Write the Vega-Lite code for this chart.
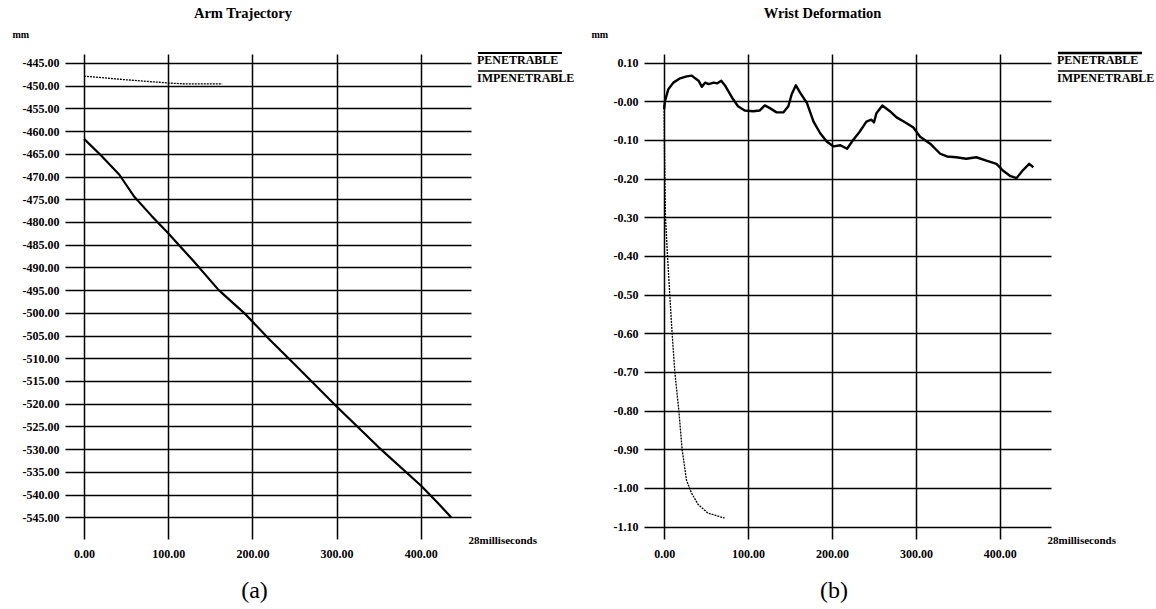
{
  "$schema": "https://vega.github.io/schema/vega-lite/v6.json",
  "background": "white",
  "padding": {"left": 12, "top": 5, "right": 2, "bottom": 5},
  "datasets": {
    "arm": [
      {"t": 0, "v": -461.7, "series": "PENETRABLE"},
      {"t": 20, "v": -465.3, "series": "PENETRABLE"},
      {"t": 42, "v": -469.6, "series": "PENETRABLE"},
      {"t": 50, "v": -471.8, "series": "PENETRABLE"},
      {"t": 60, "v": -474.5, "series": "PENETRABLE"},
      {"t": 80, "v": -478.6, "series": "PENETRABLE"},
      {"t": 100, "v": -482.5, "series": "PENETRABLE"},
      {"t": 130, "v": -488.6, "series": "PENETRABLE"},
      {"t": 160, "v": -495.0, "series": "PENETRABLE"},
      {"t": 190, "v": -500.0, "series": "PENETRABLE"},
      {"t": 220, "v": -505.8, "series": "PENETRABLE"},
      {"t": 250, "v": -511.3, "series": "PENETRABLE"},
      {"t": 300, "v": -520.6, "series": "PENETRABLE"},
      {"t": 350, "v": -529.6, "series": "PENETRABLE"},
      {"t": 400, "v": -538.0, "series": "PENETRABLE"},
      {"t": 420, "v": -541.8, "series": "PENETRABLE"},
      {"t": 436, "v": -545.0, "series": "PENETRABLE"},
      {"t": 0, "v": -447.9, "series": "IMPENETRABLE"},
      {"t": 50, "v": -448.7, "series": "IMPENETRABLE"},
      {"t": 100, "v": -449.4, "series": "IMPENETRABLE"},
      {"t": 120, "v": -449.6, "series": "IMPENETRABLE"},
      {"t": 164, "v": -449.6, "series": "IMPENETRABLE"}
    ],
    "wrist": [
      {"t": 0, "v": -0.02, "series": "PENETRABLE"},
      {"t": 1, "v": 0.0, "series": "PENETRABLE"},
      {"t": 5, "v": 0.031, "series": "PENETRABLE"},
      {"t": 11, "v": 0.048, "series": "PENETRABLE"},
      {"t": 19, "v": 0.059, "series": "PENETRABLE"},
      {"t": 27, "v": 0.064, "series": "PENETRABLE"},
      {"t": 33, "v": 0.066, "series": "PENETRABLE"},
      {"t": 37, "v": 0.059, "series": "PENETRABLE"},
      {"t": 41, "v": 0.053, "series": "PENETRABLE"},
      {"t": 45, "v": 0.037, "series": "PENETRABLE"},
      {"t": 49, "v": 0.048, "series": "PENETRABLE"},
      {"t": 53, "v": 0.044, "series": "PENETRABLE"},
      {"t": 59, "v": 0.048, "series": "PENETRABLE"},
      {"t": 63, "v": 0.046, "series": "PENETRABLE"},
      {"t": 68, "v": 0.053, "series": "PENETRABLE"},
      {"t": 73, "v": 0.039, "series": "PENETRABLE"},
      {"t": 81, "v": 0.009, "series": "PENETRABLE"},
      {"t": 88, "v": -0.013, "series": "PENETRABLE"},
      {"t": 96, "v": -0.024, "series": "PENETRABLE"},
      {"t": 106, "v": -0.026, "series": "PENETRABLE"},
      {"t": 114, "v": -0.024, "series": "PENETRABLE"},
      {"t": 120, "v": -0.011, "series": "PENETRABLE"},
      {"t": 126, "v": -0.018, "series": "PENETRABLE"},
      {"t": 134, "v": -0.029, "series": "PENETRABLE"},
      {"t": 142, "v": -0.029, "series": "PENETRABLE"},
      {"t": 148, "v": -0.013, "series": "PENETRABLE"},
      {"t": 152, "v": 0.018, "series": "PENETRABLE"},
      {"t": 157, "v": 0.041, "series": "PENETRABLE"},
      {"t": 162, "v": 0.022, "series": "PENETRABLE"},
      {"t": 170, "v": -0.004, "series": "PENETRABLE"},
      {"t": 178, "v": -0.053, "series": "PENETRABLE"},
      {"t": 186, "v": -0.083, "series": "PENETRABLE"},
      {"t": 194, "v": -0.105, "series": "PENETRABLE"},
      {"t": 202, "v": -0.117, "series": "PENETRABLE"},
      {"t": 210, "v": -0.114, "series": "PENETRABLE"},
      {"t": 218, "v": -0.123, "series": "PENETRABLE"},
      {"t": 225, "v": -0.101, "series": "PENETRABLE"},
      {"t": 233, "v": -0.079, "series": "PENETRABLE"},
      {"t": 241, "v": -0.053, "series": "PENETRABLE"},
      {"t": 247, "v": -0.048, "series": "PENETRABLE"},
      {"t": 250, "v": -0.055, "series": "PENETRABLE"},
      {"t": 253, "v": -0.031, "series": "PENETRABLE"},
      {"t": 260, "v": -0.011, "series": "PENETRABLE"},
      {"t": 269, "v": -0.026, "series": "PENETRABLE"},
      {"t": 277, "v": -0.042, "series": "PENETRABLE"},
      {"t": 289, "v": -0.057, "series": "PENETRABLE"},
      {"t": 297, "v": -0.068, "series": "PENETRABLE"},
      {"t": 305, "v": -0.092, "series": "PENETRABLE"},
      {"t": 317, "v": -0.110, "series": "PENETRABLE"},
      {"t": 329, "v": -0.136, "series": "PENETRABLE"},
      {"t": 337, "v": -0.143, "series": "PENETRABLE"},
      {"t": 348, "v": -0.145, "series": "PENETRABLE"},
      {"t": 360, "v": -0.149, "series": "PENETRABLE"},
      {"t": 372, "v": -0.145, "series": "PENETRABLE"},
      {"t": 384, "v": -0.154, "series": "PENETRABLE"},
      {"t": 396, "v": -0.162, "series": "PENETRABLE"},
      {"t": 404, "v": -0.180, "series": "PENETRABLE"},
      {"t": 412, "v": -0.193, "series": "PENETRABLE"},
      {"t": 420, "v": -0.199, "series": "PENETRABLE"},
      {"t": 427, "v": -0.180, "series": "PENETRABLE"},
      {"t": 435, "v": -0.162, "series": "PENETRABLE"},
      {"t": 440, "v": -0.171, "series": "PENETRABLE"},
      {"t": 0, "v": -0.01, "series": "IMPENETRABLE"},
      {"t": 0.4, "v": -0.12, "series": "IMPENETRABLE"},
      {"t": 0.8, "v": -0.20, "series": "IMPENETRABLE"},
      {"t": 1.6, "v": -0.30, "series": "IMPENETRABLE"},
      {"t": 4, "v": -0.40, "series": "IMPENETRABLE"},
      {"t": 6.7, "v": -0.50, "series": "IMPENETRABLE"},
      {"t": 9.5, "v": -0.60, "series": "IMPENETRABLE"},
      {"t": 12.7, "v": -0.70, "series": "IMPENETRABLE"},
      {"t": 17.5, "v": -0.80, "series": "IMPENETRABLE"},
      {"t": 21.4, "v": -0.90, "series": "IMPENETRABLE"},
      {"t": 26.6, "v": -0.98, "series": "IMPENETRABLE"},
      {"t": 32.5, "v": -1.013, "series": "IMPENETRABLE"},
      {"t": 40.5, "v": -1.043, "series": "IMPENETRABLE"},
      {"t": 52, "v": -1.065, "series": "IMPENETRABLE"},
      {"t": 64, "v": -1.073, "series": "IMPENETRABLE"},
      {"t": 72, "v": -1.078, "series": "IMPENETRABLE"}
    ]
  },
  "hconcat": [
    {
      "title": {"text": "(a)", "orient": "bottom", "anchor": "middle", "frame": "bounds", "dx": -39, "font": "Liberation Serif", "fontSize": 24, "fontWeight": "normal", "offset": 20},
      "resolve": {"scale": {"strokeWidth": "independent"}, "legend": {"strokeWidth": "independent"}},
      "vconcat": [
        {
          "title": {"text": "Arm Trajectory", "offset": 8, "dx": -25},
          "width": 406,
          "height": 485,
          "data": {"name": "arm"},
          "encoding": {
            "x": {"field": "t", "type": "quantitative",
              "scale": {"domain": [-22.6, 459.6], "nice": false, "zero": false},
              "axis": {"values": [0, 100, 200, 300, 400], "title": "28milliseconds", "titleX": 403, "titleY": 1, "titleAlign": "left", "titleBaseline": "middle"}},
            "y": {"field": "v", "type": "quantitative",
              "scale": {"domain": [-549.78, -443.02], "nice": false, "zero": false},
              "axis": {"values": [-445, -450, -455, -460, -465, -470, -475, -480, -485, -490, -495, -500, -505, -510, -515, -520, -525, -530, -535, -540, -545], "title": "mm", "titleAngle": 0, "titleX": -53, "titleY": -20, "titleAlign": "left", "titleBaseline": "middle"}},
            "strokeWidth": {"field": "series", "type": "nominal",
              "scale": {"domain": ["PENETRABLE", "IMPENETRABLE"], "range": [2.2, 1.3]},
              "legend": {}}
          },
          "layer": [
            {"transform": [{"filter": "datum.series === 'PENETRABLE'"}], "mark": {"type": "line", "color": "black", "strokeJoin": "round"}},
            {"transform": [{"filter": "datum.series === 'IMPENETRABLE'"}], "mark": {"type": "line", "color": "black", "strokeDash": [2, 1]}}
          ]
        }
      ]
    },
    {
      "title": {"text": "(b)", "orient": "bottom", "anchor": "middle", "frame": "bounds", "dx": -39, "font": "Liberation Serif", "fontSize": 24, "fontWeight": "normal", "offset": 20},
      "resolve": {"scale": {"strokeWidth": "independent"}, "legend": {"strokeWidth": "independent"}},
      "vconcat": [
        {
          "title": {"text": "Wrist Deformation", "offset": 8, "dx": -25},
          "width": 407,
          "height": 485,
          "data": {"name": "wrist"},
          "encoding": {
            "x": {"field": "t", "type": "quantitative",
              "scale": {"domain": [-24, 461], "nice": false, "zero": false},
              "axis": {"values": [0, 100, 200, 300, 400], "title": "28milliseconds", "titleX": 403, "titleY": 1, "titleAlign": "left", "titleBaseline": "middle"}},
            "y": {"field": "v", "type": "quantitative",
              "scale": {"domain": [-1.1323, 0.122], "nice": false, "zero": false},
              "axis": {"values": [0.1, 0, -0.1, -0.2, -0.3, -0.4, -0.5, -0.6, -0.7, -0.8, -0.9, -1.0, -1.1], "labelExpr": "datum.value == 0 ? '-0.00' : datum.label", "title": "mm", "titleAngle": 0, "titleX": -53, "titleY": -20, "titleAlign": "left", "titleBaseline": "middle"}},
            "strokeWidth": {"field": "series", "type": "nominal",
              "scale": {"domain": ["PENETRABLE", "IMPENETRABLE"], "range": [2.4, 1.3]},
              "legend": {}}
          },
          "layer": [
            {"transform": [{"filter": "datum.series === 'PENETRABLE'"}], "mark": {"type": "line", "color": "black", "strokeJoin": "round"}},
            {"transform": [{"filter": "datum.series === 'IMPENETRABLE'"}], "mark": {"type": "line", "color": "black", "strokeDash": [2, 1]}}
          ]
        }
      ]
    }
  ],
  "spacing": 16,
  "resolve": {"scale": {"strokeWidth": "independent"}, "legend": {"strokeWidth": "independent"}},
  "config": {
    "locale": {"number": {"decimal": ".", "thousands": ",", "grouping": [3], "currency": ["$", ""], "minus": "-"}},
    "view": {"stroke": null},
    "axis": {"domain": false, "ticks": false, "grid": true, "gridColor": "black", "gridWidth": 1.5, "gridOpacity": 1, "labelFont": "Liberation Serif", "labelFontWeight": "bold", "labelFontSize": 12, "labelColor": "black", "labelPadding": 6, "labelOverlap": false, "format": ".2f", "titleFont": "Liberation Serif", "titleFontWeight": "bold", "titleColor": "black", "titleFontSize": 10},
    "axisX": {"labelPadding": 9, "titleFontSize": 11},
    "title": {"font": "Liberation Serif", "fontWeight": "bold", "fontSize": 14.5, "color": "black"},
    "legend": {"title": null, "orient": "right", "offset": -7, "padding": 0, "symbolType": "M 8 -7 H 92", "symbolSize": 4, "symbolStrokeColor": "black", "symbolFillColor": "transparent", "symbolDash": [], "labelOffset": 1, "labelFont": "Liberation Serif", "labelFontWeight": "bold", "labelFontSize": 12, "labelColor": "black", "rowPadding": 2}
  }
}
